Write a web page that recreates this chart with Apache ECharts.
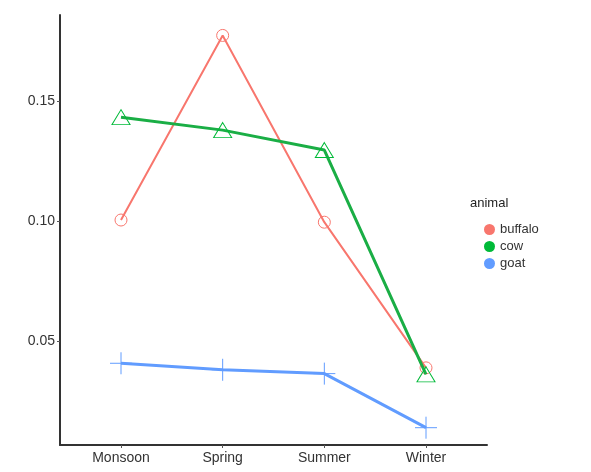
<!DOCTYPE html>
<html>
<head>
<meta charset="utf-8">
<script src="https://cdn.jsdelivr.net/npm/echarts@6/dist/echarts.min.js"></script>
<style>
  html, body { margin: 0; padding: 0; background: #fff; }
  #chart { width: 591px; height: 472px; }
</style>
</head>
<body>
<div id="chart"></div>
<script>
// 季节（横坐标）
var seasons = ['Monsoon', 'Spring', 'Summer', 'Winter'];
// 各动物数值
var buffalo = [0.1004, 0.1772, 0.0995, 0.0389];
var cow = [0.1432, 0.1378, 0.1295, 0.0362];
var goat = [0.0408, 0.0381, 0.0365, 0.0140];
// 纵轴刻度
var yTicks = [0.05, 0.10, 0.15];

var colors = { buffalo: '#F8766D', cow: '#00BA38', goat: '#619CFF' };

function toPoints(arr) {
  return arr.map(function (v, i) { return [i, v]; });
}

var chart = echarts.init(document.getElementById('chart'), null, { renderer: 'canvas' });

var option = {
  animation: false,
  grid: { left: 60, right: 104, top: 15, bottom: 27 },
  legend: {
    orient: 'vertical',
    left: 479,
    top: 218,
    itemWidth: 11,
    itemHeight: 11,
    itemGap: 4,
    icon: 'circle',
    textStyle: { color: '#333', fontSize: 13, fontFamily: 'Liberation Sans' },
    data: [
      { name: 'buffalo', itemStyle: { color: colors.buffalo, borderWidth: 0 } },
      { name: 'cow', itemStyle: { color: colors.cow, borderWidth: 0 } },
      { name: 'goat', itemStyle: { color: colors.goat, borderWidth: 0 } }
    ]
  },
  graphic: [{
    type: 'text', left: 470, top: 197,
    style: { text: 'animal', fill: '#222', fontSize: 13, fontFamily: 'Liberation Sans' }
  }],
  xAxis: {
    type: 'value',
    min: -0.6,
    max: 3.6,
    splitLine: { show: false },
    axisLine: { show: true, onZero: false, lineStyle: { color: '#333', width: 2 } },
    axisTick: { show: true, length: 3, lineStyle: { color: '#555' }, customValues: [0, 1, 2, 3] },
    axisLabel: {
      customValues: [0, 1, 2, 3],
      color: '#333', fontSize: 14, fontFamily: 'Liberation Sans', margin: 6,
      formatter: function (v) { return seasons[Math.round(v)]; }
    }
  },
  yAxis: {
    type: 'value',
    min: 0.0068,
    max: 0.1857,
    splitLine: { show: false },
    axisLine: { show: true, onZero: false, lineStyle: { color: '#333', width: 2 } },
    axisTick: { show: true, length: 3, lineStyle: { color: '#555' }, customValues: yTicks },
    axisLabel: {
      customValues: yTicks,
      color: '#333', fontSize: 14, fontFamily: 'Liberation Sans', margin: 5,
      formatter: function (v) { return v.toFixed(2); }
    }
  },
  series: [{
    name: 'buffalo',
    type: 'line',
    data: toPoints(buffalo),
    symbol: 'circle',
    symbolSize: 12,
    lineStyle: { color: colors.buffalo, width: 2 },
    itemStyle: { color: 'rgba(0,0,0,0)', borderColor: colors.buffalo, borderWidth: 1 },
    z: 3
  }, {
    name: 'cow',
    type: 'line',
    data: toPoints(cow),
    symbol: 'triangle',
    symbolSize: [18, 15],
    lineStyle: { color: '#1aae45', width: 3 },
    itemStyle: { color: 'rgba(0,0,0,0)', borderColor: colors.cow, borderWidth: 1 },
    z: 4
  }, {
    name: 'goat',
    type: 'line',
    data: toPoints(goat),
    symbol: 'path://M0,-1L0,1M-1,0L1,0',
    symbolSize: 22,
    lineStyle: { color: colors.goat, width: 3 },
    itemStyle: { color: 'rgba(0,0,0,0)', borderColor: colors.goat, borderWidth: 1 },
    z: 2
  }]
};

chart.setOption(option);
</script>
</body>
</html>
